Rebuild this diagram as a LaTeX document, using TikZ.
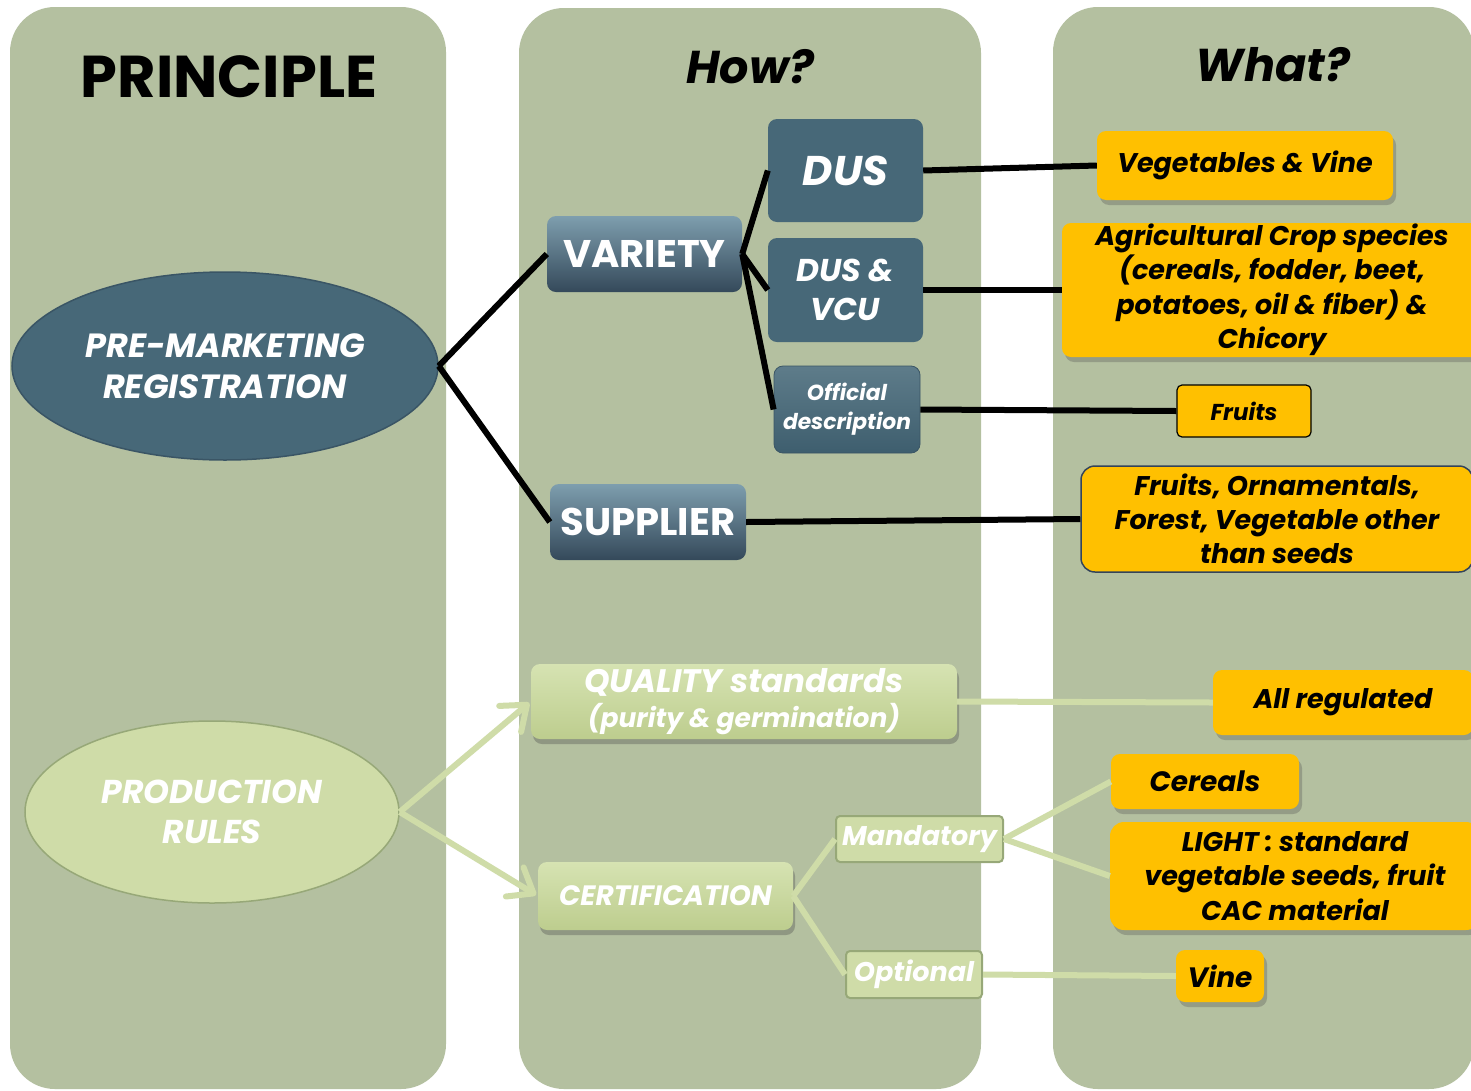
\documentclass[tikz,border=0pt]{standalone}
\usepackage{fontspec}
\setmainfont{Poppins}
\usetikzlibrary{shapes.geometric,arrows.meta,shadows}
\definecolor{panel}{HTML}{B4C0A0}
\definecolor{dblue}{HTML}{476878}
\definecolor{dbluedark}{HTML}{3A5565}
\definecolor{gradtop}{HTML}{7E9EAE}
\definecolor{gradbot}{HTML}{34495A}
\definecolor{offtop}{HTML}{5E7C8A}
\definecolor{offbot}{HTML}{3E5E6E}
\definecolor{yel}{HTML}{FFC000}
\definecolor{lgreen}{HTML}{CFDCA8}
\definecolor{lgtop}{HTML}{D6E3B2}
\definecolor{lgbot}{HTML}{BDCD8E}
\definecolor{lgborder}{HTML}{97A878}
\definecolor{foborder}{HTML}{34445A}
\newcommand{\fsz}[2]{\fontsize{#1}{#2}\selectfont}
\begin{document}
\begin{tikzpicture}[x=1pt,y=-1pt,
  box/.style={rectangle, rounded corners=9pt, inner sep=0pt, align=center, font=\bfseries\itshape},
  darkbox/.style={box, fill=dblue, text=white},
  gradbox/.style={box, top color=gradtop, bottom color=gradbot, text=white, font=\bfseries},
  ybox/.style={box, fill=yel, text=black, drop shadow={shadow xshift=3pt, shadow yshift=-5pt, opacity=0.3, fill=black!70}},
  gbox/.style={box, top color=lgtop, bottom color=lgbot, text=white, drop shadow={shadow xshift=2pt, shadow yshift=-5pt, opacity=0.35, fill=black!70}},
  blk/.style={line width=6pt, black},
  grn/.style={line width=6pt, lgreen},
  garrow/.style={grn, -{Straight Barb[length=22pt, width=34pt, round]}},
  title/.style={font=\bfseries, text=black}
]
\useasboundingbox (0,0) rectangle (1471,1090);
\fill[white] (0,0) rectangle (1471,1090);
% panels
\fill[panel, rounded corners=45pt] (10,7) rectangle (446,1089);
\fill[panel, rounded corners=45pt] (519,8) rectangle (981,1089);
\fill[panel, rounded corners=45pt] (1053,7) rectangle (1474,1089);
% titles
\node[title, font=\bfseries\fsz{59}{62}] (t1) at (229,77) {PRINCIPLE};
\node[title, font=\bfseries\itshape\fsz{46}{52}] (t2) at (750,67) {How?};
\node[title, font=\bfseries\itshape\fsz{46}{52}] (t3) at (1273,65) {What?};
% left ellipses
\node[ellipse, fill=dblue, draw=dbluedark, line width=1.5pt, minimum width=426pt, minimum height=188pt, text=white, align=center, font=\bfseries\itshape\fsz{33.5}{41}] (pm) at (225,366) {PRE-MARKETING\\REGISTRATION};
\node[ellipse, fill=lgreen, draw=lgborder, line width=1.5pt, minimum width=374pt, minimum height=182pt, text=white, align=center, font=\bfseries\itshape\fsz{33}{40}] (pr) at (212,812) {PRODUCTION\\RULES};
% how column
\node[gradbox, minimum width=195pt, minimum height=76pt, font=\bfseries\fsz{38.5}{40}] (var) at (644.5,254) {VARIETY};
\node[gradbox, minimum width=196pt, minimum height=76pt, font=\bfseries\fsz{38.5}{40}] (sup) at (648,522) {SUPPLIER};
\node[darkbox, minimum width=155pt, minimum height=103pt, font=\bfseries\itshape\fsz{41.5}{46}] (dus) at (845.5,170.5) {DUS};
\node[darkbox, minimum width=155pt, minimum height=104pt, font=\bfseries\itshape\fsz{31.5}{39}] (dv) at (845.5,290) {DUS \&\\VCU};
\node[box, top color=offtop, bottom color=offbot, draw=dbluedark, line width=0.8pt, text=white, minimum width=146pt, minimum height=87pt, font=\bfseries\itshape\fsz{21.8}{29}] (off) at (847,409.5) {Official\\description};
\node[gbox, minimum width=426pt, minimum height=75pt] (qual) at (744,701.5) {{\fsz{32.5}{36}QUALITY standards}\\[6pt]{\fsz{26.5}{34}(purity \& germination)}};
\node[gbox, minimum width=255pt, minimum height=68pt, font=\bfseries\itshape\fsz{28}{30}] (cert) at (665.5,896) {CERTIFICATION};
\node[box, fill=lgreen, draw=lgborder, line width=2pt, text=white, rounded corners=4pt, minimum width=167pt, minimum height=46pt, font=\bfseries\itshape\fsz{27}{28}] (mand) at (919.5,839) {Mandatory};
\node[box, fill=lgreen, draw=lgborder, line width=2pt, text=white, rounded corners=4pt, minimum width=136pt, minimum height=47pt, font=\bfseries\itshape\fsz{27}{28}] (opt) at (914,974.5) {Optional};
% what column
\node[ybox, minimum width=296pt, minimum height=69pt, font=\bfseries\itshape\fsz{27}{30}] (veg) at (1245,165.5) {Vegetables \& Vine};
\node[ybox, minimum width=420pt, minimum height=134pt, font=\bfseries\itshape\fsz{27}{34.5}] (agri) at (1272,290) {Agricultural Crop species\\(cereals, fodder, beet,\\potatoes, oil \& fiber) \&\\Chicory};
\node[box, fill=yel, draw=black, line width=1.2pt, rounded corners=5pt, minimum width=134pt, minimum height=52pt, font=\bfseries\itshape\fsz{23}{26}] (fru) at (1244,411) {Fruits};
\node[box, fill=yel, draw=foborder, line width=1.5pt, rounded corners=14pt, minimum width=392pt, minimum height=106pt, font=\bfseries\itshape\fsz{27}{34}] (fo) at (1277,519) {Fruits, Ornamentals,\\Forest, Vegetable other\\than seeds};
\node[ybox, minimum width=260pt, minimum height=65pt, font=\bfseries\itshape\fsz{27}{30}] (allr) at (1343,702.5) {All regulated};
\node[ybox, minimum width=188pt, minimum height=55pt, font=\bfseries\itshape\fsz{28}{30}] (cer) at (1205,781.5) {Cereals};
\node[ybox, minimum width=370pt, minimum height=108pt, rounded corners=14pt, font=\bfseries\itshape\fsz{27}{34.5}] (light) at (1295,876) {LIGHT : standard\\vegetable seeds, fruit\\CAC material};
\node[ybox, minimum width=88pt, minimum height=52pt, font=\bfseries\itshape\fsz{28}{30}] (vine) at (1220,976) {Vine};
% black connectors
\draw[blk] (pm.east) -- (var.west);
\draw[blk] (pm.east) -- (sup.west);
\draw[blk] (var.east) -- (dus.west);
\draw[blk] (var.east) -- (dv.west);
\draw[blk] (var.east) -- (off.west);
\draw[blk] (dus.east) -- (veg.west);
\draw[blk] (dv.east) -- (agri.west);
\draw[blk] (off.east) -- (fru.west);
\draw[blk] (sup.east) -- (fo.west);
% green connectors
\draw[garrow, shorten >=2pt] (pr.east) -- (qual.west);
\draw[garrow, shorten >=2pt] (pr.east) -- (cert.west);
\draw[grn] (qual.east) -- (allr.west);
\draw[grn] (cert.east) -- (mand.west);
\draw[grn] (cert.east) -- (opt.west);
\draw[grn] (mand.east) -- (cer.west);
\draw[grn] (mand.east) -- (light.west);
\draw[grn] (opt.east) -- (vine.west);
\end{tikzpicture}
\end{document}
